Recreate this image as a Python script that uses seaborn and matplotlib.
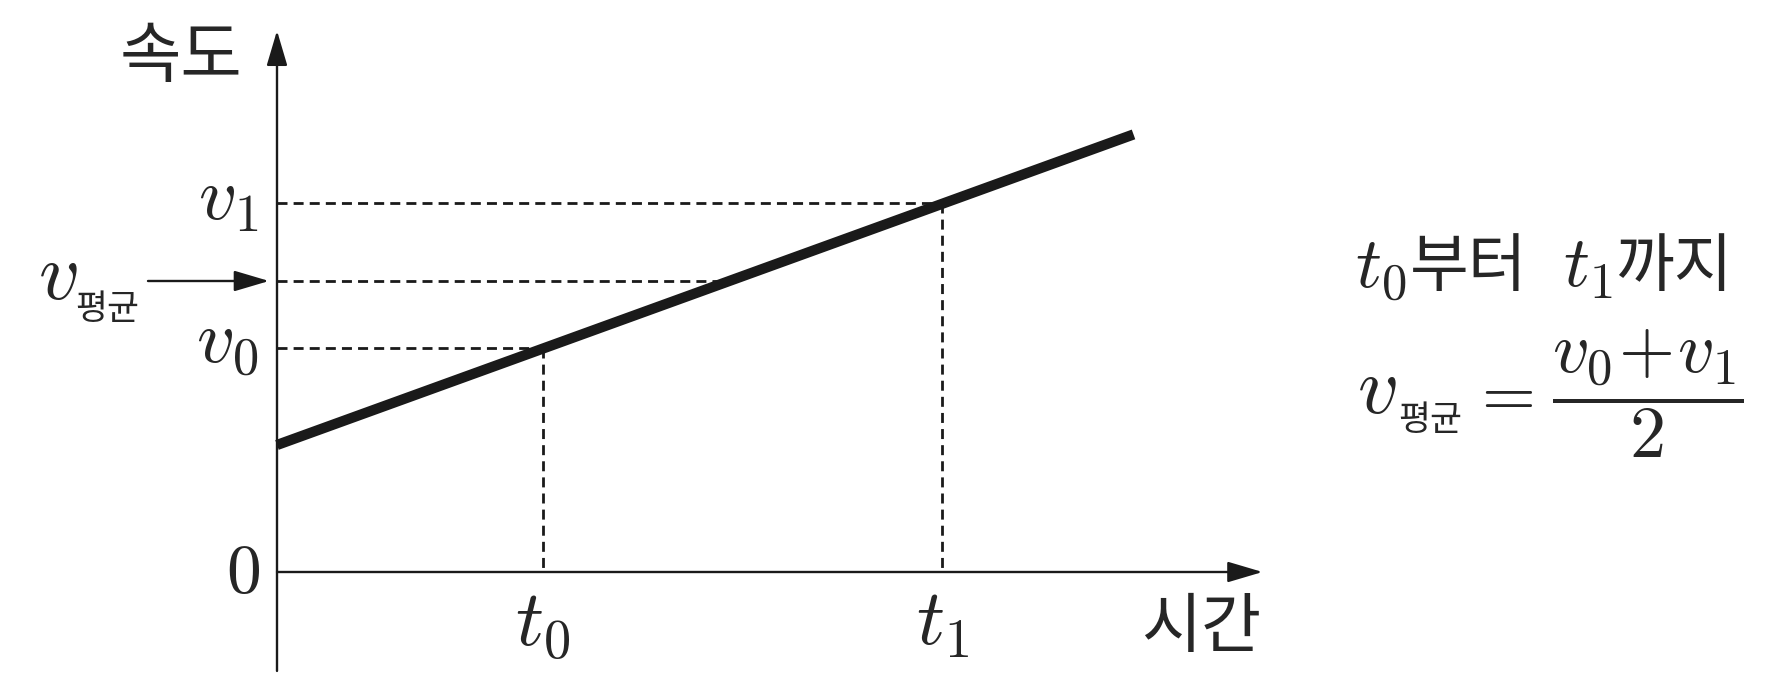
import numpy as np
import pandas as pd
import matplotlib
matplotlib.use("Agg")
import matplotlib.pyplot as plt
import seaborn as sns

# values (1 unit = 133 px on both axes)
line_t = [0.0, 6.44]          # thick velocity line
line_v = [0.955, 3.29]
t0, t1 = 2.0, 5.0
v0, v1 = 1.684, 2.774
v_avg = 2.188
t_avg = 3.32                  # where the v_avg guide meets the line
x_axis_end = 7.41
y_axis_top, y_axis_bottom = 4.07, -0.744
avg_arrow_start = -0.97

W, H = 1789, 700

sns.set_theme(style="white")
plt.rcParams["font.family"] = ["Noto Sans CJK KR", "DejaVu Sans"]
plt.rcParams["mathtext.fontset"] = "cm"

fig = plt.figure(figsize=(W / 100, H / 100), dpi=100)
ax = fig.add_axes([0, 0, 1, 1])
ax.set_xlim(-277 / 133, (W - 277) / 133)
ax.set_ylim(-(H - 572) / 133, 572 / 133)
ax.axis("off")


def put(x, y, s, **kw):
    """text placed in figure pixels, counted from the top left"""
    fig.text(x / W, 1 - y / H, s, **kw)


"""guide lines"""
guides = pd.DataFrame({
    "x": [0, t1, 0, t_avg, 0, t0, t0, t0, t1, t1],
    "y": [v1, v1, v_avg, v_avg, v0, v0, v0, 0, v1, 0],
    "seg": [0, 0, 1, 1, 2, 2, 3, 3, 4, 4],
})
for _, g in guides.groupby("seg"):
    sns.lineplot(x=g["x"].values, y=g["y"].values, ax=ax, color="k", lw=2.0,
                 linestyle=(0, (3.6, 2.2)), estimator=None, sort=False, zorder=2)

"""main line"""
sns.lineplot(x=line_t, y=line_v, ax=ax, color="k", lw=7.4, estimator=None,
             sort=False, zorder=3, solid_capstyle="butt")

"""axes with arrow heads"""
arrow_kw = dict(arrowstyle="-|>,head_length=1.08,head_width=0.32", color="k",
                lw=1.7, shrinkA=0, shrinkB=0, mutation_scale=20)
ax.annotate("", xy=(x_axis_end, 0), xytext=(0, 0), arrowprops=arrow_kw)
ax.annotate("", xy=(0, y_axis_top), xytext=(0, y_axis_bottom), arrowprops=arrow_kw)
ax.annotate("", xy=(-0.06, v_avg), xytext=(avg_arrow_start, v_avg), arrowprops=arrow_kw)

"""labels on the axes"""
off = dict(textcoords="offset pixels")
ax.annotate("$0$", xy=(0, 0), xytext=(-17, 0), ha="right", va="center", fontsize=50, **off)
ax.annotate("$v_1$", xy=(0, v1), xytext=(-19, -16), ha="right", va="baseline", fontsize=54, **off)
ax.annotate("$v_0$", xy=(0, v0), xytext=(-19, -15), ha="right", va="baseline", fontsize=54, **off)
ax.annotate("$v$", xy=(avg_arrow_start, v_avg), xytext=(-110, -18), ha="left", va="baseline",
            fontsize=58, **off)
ax.annotate("평균", xy=(avg_arrow_start, v_avg), xytext=(-73, -38), ha="left", va="baseline",
            fontsize=25, **off)
ax.annotate("$t_0$", xy=(t0, 0), xytext=(0, -73), ha="center", va="baseline", fontsize=56, **off)
ax.annotate("$t_1$", xy=(t1, 0), xytext=(0, -73), ha="center", va="baseline", fontsize=56, **off)

put(181, 58, "속도", ha="center", va="center", fontsize=48)
put(1201, 629, "시간", ha="center", va="center", fontsize=47)

"""text on the right"""
put(1355, 287, "$t_0$", ha="left", va="baseline", fontsize=52)
put(1410, 286, "부터", ha="left", va="baseline", fontsize=46)
put(1563, 287, "$t_1$", ha="left", va="baseline", fontsize=52)
put(1615, 286, "까지", ha="left", va="baseline", fontsize=46)

put(1357, 413, "$v$", ha="left", va="baseline", fontsize=58)
put(1398, 430, "평균", ha="left", va="baseline", fontsize=25)
put(1501, 394, "$=$", ha="center", va="center", fontsize=50)
put(1648, 394, r"$\dfrac{v_0\!+\!v_1}{2}$", ha="center", va="center", fontsize=52)

fig.savefig("out.png", dpi=100)
